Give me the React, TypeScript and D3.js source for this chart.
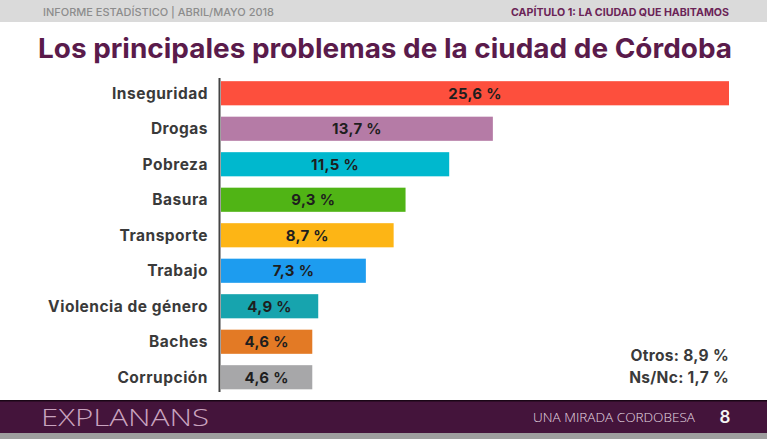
import * as d3 from 'd3'

const categories = [
    'Inseguridad',
    'Drogas',
    'Pobreza',
    'Basura',
    'Transporte',
    'Trabajo',
    'Violencia de género',
    'Baches',
    'Corrupción',
]
const values = [25.6, 13.7, 11.5, 9.3, 8.7, 7.3, 4.9, 4.6, 4.6]
const barColors = [
    '#fd4f3d',
    '#b57ba6',
    '#00b8ce',
    '#50b415',
    '#fdb515',
    '#1d9cef',
    '#17a4ae',
    '#e37a25',
    '#a7a7a9',
]
const extraNotes = ['Otros: 8,9 %', 'Ns/Nc: 1,7 %']

const W = 767
const H = 439
const FONT = 'Inter, "Open Sans", sans-serif'

const fmt = (v: number) => v.toFixed(1).replace('.', ',') + ' %'

const App = () => {
    const x = d3.scaleLinear().domain([0, 25.6]).range([221, 729])
    const y = d3
        .scaleBand<string>()
        .domain(categories)
        .range([75.5, 395])
        .paddingInner(0.32)
        .paddingOuter(0.16)

    return (
        <div style={{ position: 'absolute', left: 0, top: 0, width: W, height: H, overflow: 'hidden' }}>
            <svg width={W} height={H} style={{ display: 'block', background: '#fff' }}>
                {/* header strip */}
                <rect x={0} y={0} width={W} height={22} fill='#dadada' />
                <text
                    x={43}
                    y={15.5}
                    fontFamily={FONT}
                    fontSize={10.5}
                    fontWeight={500}
                    fill='#8c8c8c'
                    textLength={231}
                    lengthAdjust='spacingAndGlyphs'
                >
                    INFORME ESTADÍSTICO  |  ABRIL/MAYO 2018
                </text>
                <text
                    x={729}
                    y={15.5}
                    textAnchor='end'
                    fontFamily={FONT}
                    fontSize={10.5}
                    fontWeight={700}
                    fill='#6b2457'
                    textLength={218}
                    lengthAdjust='spacingAndGlyphs'
                >
                    CAPÍTULO 1: LA CIUDAD QUE HABITAMOS
                </text>

                {/* title */}
                <text
                    x={38}
                    y={58}
                    fontFamily={FONT}
                    fontSize={27}
                    fontWeight={700}
                    fill='#5a1b4b'
                    textLength={694}
                    lengthAdjust='spacingAndGlyphs'
                >
                    Los principales problemas de la ciudad de Córdoba
                </text>

                {/* bars */}
                {categories.map((c, i) => (
                    <g key={c}>
                        <rect
                            x={x(0)}
                            y={y(c)!}
                            width={x(values[i]) - x(0)}
                            height={y.bandwidth()}
                            fill={barColors[i]}
                        />
                        <text
                            x={(x(0) + x(values[i])) / 2}
                            y={y(c)! + y.bandwidth() / 2}
                            dy='0.36em'
                            textAnchor='middle'
                            fontFamily={FONT}
                            fontSize={15}
                            fontWeight={700}
                            letterSpacing={0.3}
                            fill='#1e1e1e'
                        >
                            {fmt(values[i])}
                        </text>
                        <text
                            x={208}
                            y={y(c)! + y.bandwidth() / 2}
                            dy='0.36em'
                            textAnchor='end'
                            fontFamily={FONT}
                            fontSize={15.5}
                            fontWeight={700}
                            letterSpacing={0.5}
                            fill='#3a3a3a'
                        >
                            {c}
                        </text>
                    </g>
                ))}

                {/* axis line */}
                <line x1={219.5} x2={219.5} y1={78} y2={392} stroke='#444' strokeWidth={2} />

                {/* notes */}
                {extraNotes.map((t, i) => (
                    <text
                        key={t}
                        x={729}
                        y={361 + i * 22}
                        textAnchor='end'
                        fontFamily={FONT}
                        fontSize={15.5}
                        fontWeight={700}
                        letterSpacing={0.3}
                        fill='#3a3a3a'
                    >
                        {t}
                    </text>
                ))}

                {/* footer */}
                <rect x={0} y={400} width={W} height={33} fill='#44143b' />
                <rect x={0} y={400} width={W} height={1.5} fill='#1a0616' />
                <rect x={0} y={433} width={W} height={6} fill='#9e9e9e' />
                <text
                    x={41}
                    y={426}
                    fontFamily='"Open Sans", sans-serif'
                    fontSize={24}
                    fontWeight={300}
                    fill='#c9a3bf'
                    textLength={168}
                    lengthAdjust='spacingAndGlyphs'
                >
                    EXPLANANS
                </text>
                <text
                    x={695}
                    y={422}
                    textAnchor='end'
                    fontFamily='"Open Sans", sans-serif'
                    fontSize={12.5}
                    fontWeight={300}
                    fill='#e4d9e1'
                    textLength={162}
                    lengthAdjust='spacingAndGlyphs'
                >
                    UNA MIRADA CORDOBESA
                </text>
                <text
                    x={725}
                    y={423}
                    textAnchor='middle'
                    fontFamily={FONT}
                    fontSize={17}
                    fontWeight={600}
                    fill='#f4f4f4'
                >
                    8
                </text>
            </svg>
        </div>
    )
}

export default App
